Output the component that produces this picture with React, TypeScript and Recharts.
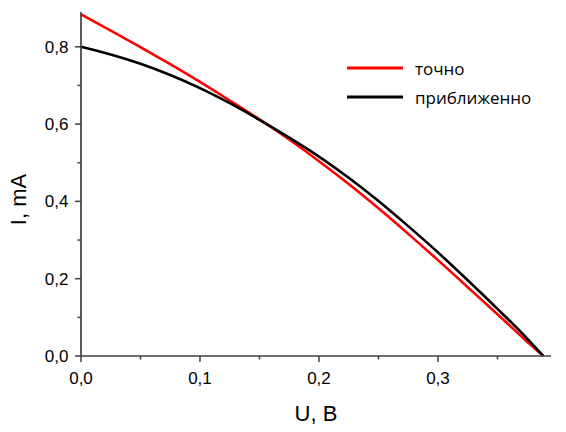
import React from 'react';
import { LineChart, Line, XAxis, YAxis, Legend, Label } from 'recharts';

// U, V (shared by both curves)
const uValues = [0, 0.025, 0.05, 0.075, 0.1, 0.125, 0.15, 0.175, 0.2, 0.225, 0.25, 0.275, 0.3, 0.325, 0.35, 0.375, 0.3885];
// I, mA
const exactI = [0.884, 0.842, 0.799, 0.755, 0.709, 0.661, 0.612, 0.56, 0.504, 0.445, 0.382, 0.316, 0.248, 0.178, 0.108, 0.037, 0];
const approxI = [0.8, 0.78, 0.756, 0.727, 0.693, 0.654, 0.611, 0.565, 0.516, 0.461, 0.401, 0.336, 0.268, 0.196, 0.122, 0.045, 0];

const seriesKeys = ['exact', 'approx'];
const xTicks = [0, 0.05, 0.1, 0.15, 0.2, 0.25, 0.3, 0.35];
const yTicks = [0, 0.1, 0.2, 0.3, 0.4, 0.5, 0.6, 0.7, 0.8];

const chartData = uValues.map((u, i) => ({ u, exact: exactI[i], approx: approxI[i] }));

const AXIS = '#404040';
const tickFont = { fontFamily: 'Liberation Sans, Arial, sans-serif', fontSize: 17, fill: '#000' };
const titleFont = { fontFamily: 'Liberation Sans, Arial, sans-serif', fontSize: 22, fill: '#000' };

const fmt = (v: number) => v.toFixed(1).replace('.', ',');

const XTick = (props: any) => {
  const { x, y, payload } = props;
  const major = Math.round(payload.value * 100) % 10 === 0;
  return (
    <g>
      <line x1={x} y1={y} x2={x} y2={y + (major ? 6 : 3.5)} stroke={AXIS} strokeWidth={1.5} />
      {major && (
        <text x={x} y={y + 28} textAnchor="middle" {...tickFont}>
          {fmt(payload.value)}
        </text>
      )}
    </g>
  );
};

const YTick = (props: any) => {
  const { x, y, payload } = props;
  const major = Math.round(payload.value * 10) % 2 === 0;
  return (
    <g>
      <line x1={x} y1={y} x2={x - (major ? 6 : 3.5)} y2={y} stroke={AXIS} strokeWidth={1.5} />
      {major && (
        <text x={x - 12.5} y={y + 6} textAnchor="end" {...tickFont}>
          {fmt(payload.value)}
        </text>
      )}
    </g>
  );
};

const renderLegend = (props: any) => {
  const items = [...(props.payload || [])].sort(
    (a: any, b: any) => seriesKeys.indexOf(a.dataKey) - seriesKeys.indexOf(b.dataKey)
  );
  return (
    <div style={{ fontFamily: 'Open Sans, sans-serif', fontSize: 17, color: '#000' }}>
      {items.map((entry: any) => (
        <div key={entry.value} style={{ display: 'flex', alignItems: 'center', height: 29, lineHeight: '29px' }}>
          <svg width={56} height={6} style={{ marginRight: 12 }}>
            <line x1={0} y1={3} x2={56} y2={3} stroke={entry.color} strokeWidth={2.8} />
          </svg>
          <span>{entry.value}</span>
        </div>
      ))}
    </div>
  );
};

export default function App() {
  return (
    <div style={{ width: 566, height: 432, position: 'absolute', left: 0, top: 0 }}>
      <LineChart width={566} height={432} data={chartData} margin={{ top: 12, right: 15, left: 0, bottom: 0 }}>
        <XAxis
          dataKey="u"
          type="number"
          domain={[0, 0.395]}
          ticks={xTicks}
          interval={0}
          tickLine={false}
          tickSize={0}
          tickMargin={0}
          tick={<XTick />}
          axisLine={{ stroke: AXIS, strokeWidth: 1.7 }}
          height={76}
        >
          <Label
            content={(p: any) => (
              <text x={p.viewBox.x + p.viewBox.width / 2} y={p.viewBox.y + 65} textAnchor="middle" {...titleFont}>
                U, B
              </text>
            )}
          />
        </XAxis>
        <YAxis
          type="number"
          domain={[0, 0.89]}
          ticks={yTicks}
          interval={0}
          tickLine={false}
          tickSize={0}
          tickMargin={0}
          tick={<YTick />}
          axisLine={{ stroke: AXIS, strokeWidth: 1.7 }}
          width={81}
        >
          <Label
            content={(p: any) => {
              const cx = p.viewBox.x + 26;
              const cy = p.viewBox.y + p.viewBox.height / 2 + 15.5;
              return (
                <text x={cx} y={cy} textAnchor="middle" transform={`rotate(-90, ${cx}, ${cy})`} {...titleFont}>
                  I, mA
                </text>
              );
            }}
          />
        </YAxis>
        <Legend
          layout="vertical"
          align="center"
          verticalAlign="middle"
          content={renderLegend}
          wrapperStyle={{ left: 347, top: 53.5, width: 200, height: 58 }}
        />
        <Line
          type="monotone"
          dataKey="exact"
          name="точно"
          stroke="#ff0000"
          strokeWidth={2.6}
          dot={false}
          isAnimationActive={false}
        />
        <Line
          type="monotone"
          dataKey="approx"
          name="приближенно"
          stroke="#000000"
          strokeWidth={2.6}
          dot={false}
          isAnimationActive={false}
        />
      </LineChart>
    </div>
  );
}
